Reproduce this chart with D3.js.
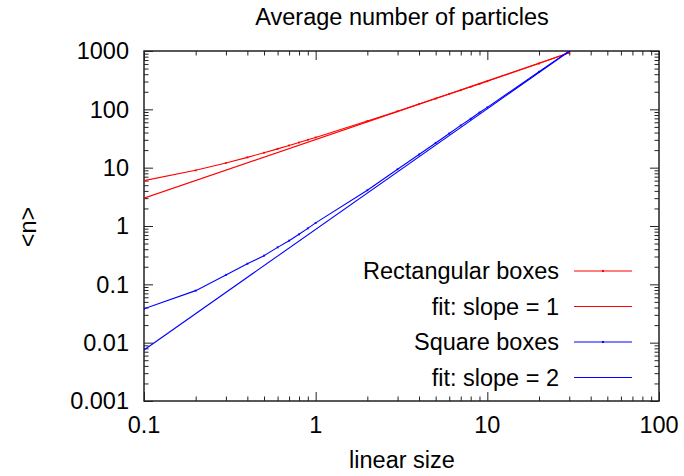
<!DOCTYPE html>
<html>
<head>
<meta charset="utf-8">
<script src="https://cdn.jsdelivr.net/npm/d3@7"></script>
<style>
  body { margin: 0; background: #fff; }
  svg { display: block; font-family: "Liberation Sans", Arial, sans-serif; }
</style>
</head>
<body>
<svg id="chart" width="684" height="476"></svg>
<script>
// ---- data ----
const chartTitle = "Average number of particles";
const xTitle = "linear size";
const yTitle = "<n>";
const xTickValues = [0.1, 1, 10, 100];
const xTickLabels = ["0.1", "1", "10", "100"];
const yTickValues = [0.001, 0.01, 0.1, 1, 10, 100, 1000];
const yTickLabels = ["0.001", "0.01", "0.1", "1", "10", "100", "1000"];

const rectX = [0.1, 0.2, 0.3, 0.4, 0.5, 0.6, 0.7, 0.8, 0.9, 1, 2, 3, 4, 5, 6, 7, 8, 9, 10, 20, 30];
const rectN = [6, 9, 12, 15, 18, 21, 24, 27, 30, 33, 63, 93, 123, 153, 183, 213, 243, 273, 303, 610, 930];
const rectFitX = [0.1, 30];
const rectFitN = [3, 930];

const sqX = [0.1, 0.2, 0.3, 0.4, 0.5, 0.6, 0.7, 0.8, 0.9, 1, 2, 3, 4, 5, 6, 7, 8, 9, 10, 20, 30];
const sqN = [0.038, 0.078, 0.145, 0.225, 0.31, 0.43, 0.56, 0.72, 0.91, 1.13, 4.1, 9.4, 16.8, 26.5, 38.5, 53, 69, 88, 108, 440, 1000];
const sqFitX = [0.1, 30];
const sqFitN = [0.0075, 990];

const seriesNames = ["Rectangular boxes", "fit: slope = 1", "Square boxes", "fit: slope = 2"];
const seriesColors = ["#ff0000", "#ff0000", "#0000ff", "#0000ff"];

// ---- layout ----
const svg = d3.select("#chart");
const L = 144, R = 659, T = 51, B = 401;

const x = d3.scaleLog().domain([0.1, 100]).range([L, R]);
const y = d3.scaleLog().domain([0.001, 1000]).range([B, T]);

function minors(lo, hi) {
  const out = [];
  for (let e = Math.round(Math.log10(lo)); e < Math.round(Math.log10(hi)); e++) {
    for (let k = 2; k <= 9; k++) out.push(k * Math.pow(10, e));
  }
  return out;
}
const xMinor = minors(0.1, 100);
const yMinor = minors(0.001, 1000);

const axisColor = "#222";
const g = svg.append("g");

svg.append("clipPath").attr("id", "clip").append("rect")
  .attr("x", L).attr("y", T).attr("width", R - L).attr("height", B - T);

const line = d3.line().x(d => x(d[0])).y(d => y(d[1]));
const series = [
  { xs: rectX, ys: rectN, pts: true },
  { xs: rectFitX, ys: rectFitN, pts: false },
  { xs: sqX, ys: sqN, pts: true },
  { xs: sqFitX, ys: sqFitN, pts: false }
];
const plot = svg.append("g").attr("clip-path", "url(#clip)");
series.forEach((s, i) => {
  const data = s.xs.map((v, j) => [v, s.ys[j]]);
  plot.append("path").datum(data).attr("d", line)
    .attr("fill", "none").attr("stroke", seriesColors[i]).attr("stroke-width", 1.1);
  if (s.pts) {
    plot.selectAll(null).data(data).enter().append("rect")
      .attr("x", d => x(d[0]) - 1).attr("y", d => y(d[1]) - 1)
      .attr("width", 2).attr("height", 2).attr("fill", seriesColors[i]).attr("opacity", 0.8);
  }
});

function styleAxis(sel) {
  sel.select(".domain").remove();
  sel.selectAll("line").attr("stroke", axisColor).attr("stroke-width", 1);
  sel.selectAll("text").remove();
}
g.append("g").attr("transform", `translate(0,${B})`)
  .call(d3.axisTop(x).tickValues(xTickValues).tickSize(9)).call(styleAxis);
g.append("g").attr("transform", `translate(0,${T})`)
  .call(d3.axisBottom(x).tickValues(xTickValues).tickSize(9)).call(styleAxis);
g.append("g").attr("transform", `translate(${L},0)`)
  .call(d3.axisRight(y).tickValues(yTickValues).tickSize(9)).call(styleAxis);
g.append("g").attr("transform", `translate(${R},0)`)
  .call(d3.axisLeft(y).tickValues(yTickValues).tickSize(9)).call(styleAxis);
g.append("g").attr("transform", `translate(0,${B})`)
  .call(d3.axisTop(x).tickValues(xMinor).tickSize(4.5)).call(styleAxis);
g.append("g").attr("transform", `translate(0,${T})`)
  .call(d3.axisBottom(x).tickValues(xMinor).tickSize(4.5)).call(styleAxis);
g.append("g").attr("transform", `translate(${L},0)`)
  .call(d3.axisRight(y).tickValues(yMinor).tickSize(4.5)).call(styleAxis);
g.append("g").attr("transform", `translate(${R},0)`)
  .call(d3.axisLeft(y).tickValues(yMinor).tickSize(4.5)).call(styleAxis);

g.append("rect").attr("x", L).attr("y", T).attr("width", R - L).attr("height", B - T)
  .attr("fill", "none").attr("stroke", axisColor).attr("stroke-width", 1.5);

const fs = 23.5;
svg.append("g").selectAll("text").data(xTickValues).enter().append("text")
  .attr("x", d => x(d)).attr("y", 433)
  .attr("text-anchor", "middle").attr("font-size", fs).attr("fill", "#000")
  .text((d, i) => xTickLabels[i]);
svg.append("g").selectAll("text").data(yTickValues).enter().append("text")
  .attr("x", 129).attr("y", d => y(d)).attr("dy", "0.35em")
  .attr("text-anchor", "end").attr("font-size", fs).attr("fill", "#000")
  .text((d, i) => yTickLabels[i]);

svg.append("text").attr("x", 402).attr("y", 25).attr("text-anchor", "middle")
  .attr("font-size", fs).text(chartTitle);
svg.append("text").attr("x", 402).attr("y", 468).attr("text-anchor", "middle")
  .attr("font-size", fs).text(xTitle);
svg.append("text").attr("transform", "translate(36,227) rotate(-90)")
  .attr("text-anchor", "middle").attr("font-size", fs).text(yTitle);

const legY0 = 271, legDy = 35.5;
const leg = svg.append("g");
seriesNames.forEach((name, i) => {
  const yy = legY0 + i * legDy;
  leg.append("text").attr("x", 559).attr("y", yy).attr("dy", "0.35em")
    .attr("text-anchor", "end").attr("font-size", fs).text(name);
  leg.append("line").attr("x1", 574).attr("x2", 632).attr("y1", yy).attr("y2", yy)
    .attr("stroke", seriesColors[i]).attr("stroke-width", 1.1);
  if (i === 0 || i === 2) {
    leg.append("rect").attr("x", 602).attr("y", yy - 1).attr("width", 2).attr("height", 2)
      .attr("fill", seriesColors[i]);
  }
});
</script>
</body>
</html>
